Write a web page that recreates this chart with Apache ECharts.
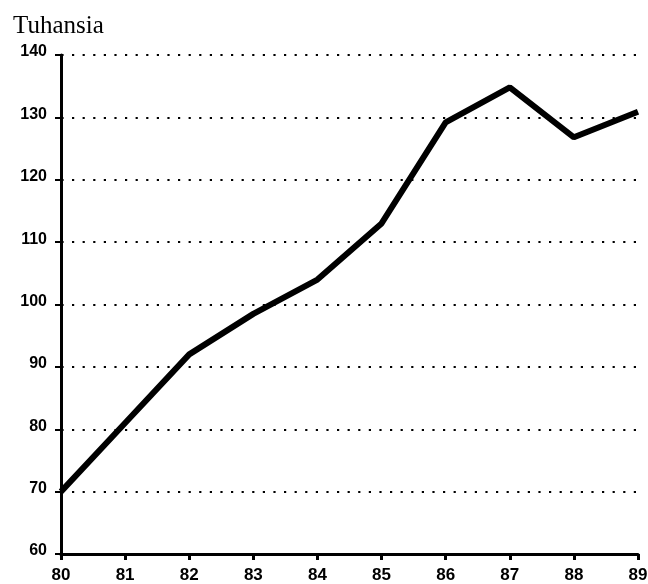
<!DOCTYPE html>
<html><head><meta charset="utf-8">
<script src="https://cdn.jsdelivr.net/npm/echarts@6/dist/echarts.min.js"></script>
<style>html,body{margin:0;padding:0;background:#fff}#c{width:648px;height:584px}</style>
</head><body><div id="c"></div>
<script>
const years = ['80','81','82','83','84','85','86','87','88','89'];
const values = [70, 81, 92, 98.5, 104, 113, 129.2, 134.8, 126.8, 130.9];
const yTitle = 'Tuhansia';

const chart = echarts.init(document.getElementById('c'), null, {renderer:'canvas'});
chart.setOption({
  animation:false,
  backgroundColor:'#fff',
  title:{text:yTitle,left:8,top:9,textStyle:{fontFamily:'Liberation Serif',fontSize:25,fontWeight:'normal',color:'#000'}},
  grid:{left:61,right:10,top:55,bottom:30,containLabel:false,outerBoundsMode:'none'},
  xAxis:{type:'category',data:years,boundaryGap:false,
    axisLine:{lineStyle:{color:'#000',width:3}},
    axisTick:{show:true,length:6,lineStyle:{color:'#000',width:3}},
    axisLabel:{color:'#000',fontFamily:'Liberation Sans',fontWeight:'bold',fontSize:17,margin:13},
    splitLine:{show:false}},
  yAxis:{type:'value',min:60,max:140,interval:10,
    axisLine:{show:true,lineStyle:{color:'#000',width:3}},
    axisTick:{show:true,length:6,lineStyle:{color:'#000',width:2}},
    axisLabel:{color:'#000',fontFamily:'Liberation Sans',fontWeight:'bold',fontSize:16,margin:14,verticalAlign:'bottom',lineHeight:6},
    splitLine:{show:true,lineStyle:{color:'#000',width:2.2,type:[2.2,8.4],dashOffset:10.2}}},
  series:[{type:'line',data:values,showSymbol:false,symbol:'none',
    lineStyle:{color:'#000',width:6},z:5}]
});
</script></body></html>
